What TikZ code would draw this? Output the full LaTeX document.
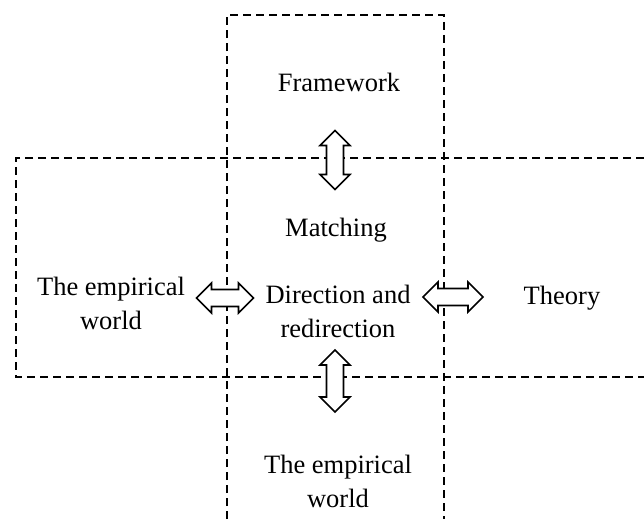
\documentclass[tikz,border=0pt]{standalone}
\usepackage{fontspec}
\setmainfont{Liberation Serif}
\begin{document}
\begin{tikzpicture}[x=1pt,y=-1pt,
  dline/.style={line width=1.8pt, dash pattern=on 8pt off 5pt},
  lbl/.style={font=\fontsize{26.5}{34}\selectfont, align=center, inner sep=0pt},
  dbla/.pic={\draw[fill=white, line width=1.6pt, line join=miter]
    (-#1,0) -- ({-#1+15},-15) -- ({-#1+15},-8.5) -- ({#1-15},-8.5) -- ({#1-15},-15)
    -- (#1,0) -- ({#1-15},15) -- ({#1-15},8.5) -- ({-#1+15},8.5) -- ({-#1+15},15) -- cycle;}]
\useasboundingbox (0,0) rectangle (644,519);
\draw[dline] (227,519) -- (227,15) -- (444,15) -- (444,519);
\draw[dline] (644,158) -- (16,158) -- (16,377) -- (644,377);
\node[lbl] (fw) at (339,82) {Framework};
\node[lbl] (match) at (336,230) {Matching};
\node[lbl] (dir) at (338,311) {Direction and\\redirection};
\node[lbl] (ew1) at (111,303) {The empirical\\world};
\node[lbl] (th) at (562,298) {Theory};
\node[lbl] (ew2) at (338,481) {The empirical\\world};
\pic (al) at (225,298) {dbla=28.5};
\pic (ar) at (453,297) {dbla=30};
\pic[rotate=90] (at) at (335,160) {dbla=29.5};
\pic[rotate=90] (ab) at (335,381) {dbla=31};
\end{tikzpicture}
\end{document}
